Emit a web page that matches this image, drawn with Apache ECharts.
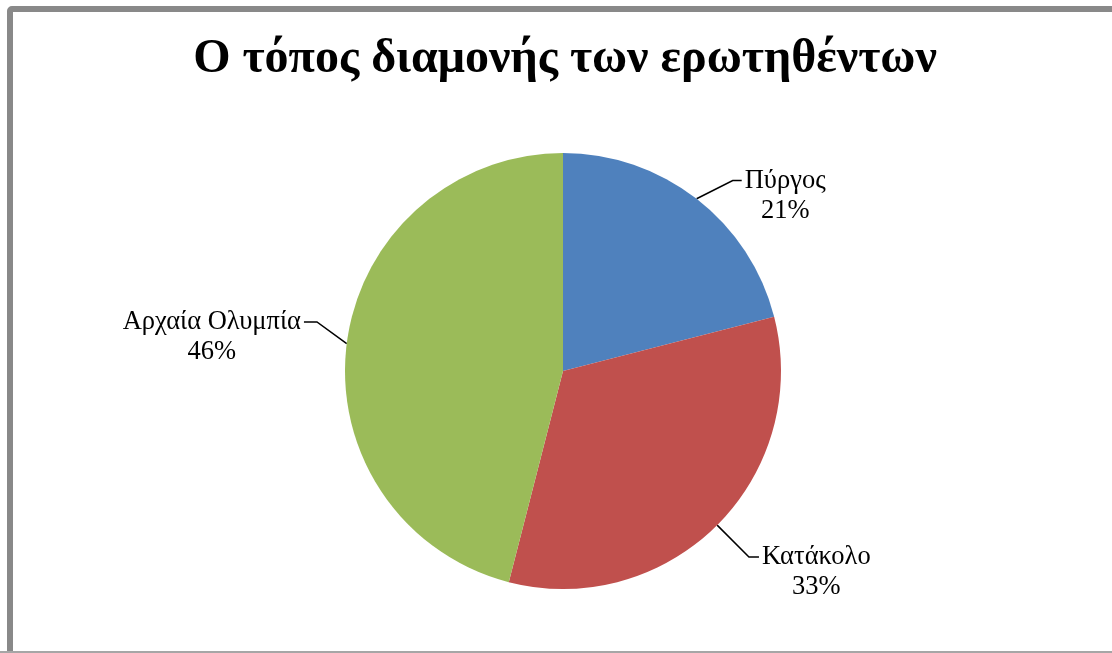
<!DOCTYPE html>
<html>
<head>
<meta charset="utf-8">
<script src="https://cdn.jsdelivr.net/npm/echarts@6/dist/echarts.min.js"></script>
<style>
  html, body { margin: 0; padding: 0; background: #ffffff; }
  #chart { width: 1112px; height: 653px; }
</style>
</head>
<body>
<div id="chart"></div>
<script>
// Place of residence of respondents
const chartTitle = 'Ο τόπος διαμονής των ερωτηθέντων';
const categories = ['Πύργος', 'Κατάκολο', 'Αρχαία Ολυμπία'];
const shares = [21, 33, 46];
const sliceColors = ['#4F81BD', '#C0504D', '#9BBB59'];

// leader line per slice: radial length, horizontal length, short shelf next to the text, vertical shift
const leaderLengths = [[23, 31], [45, 10], [30, 13]];
const leaderShelf = [9, 10, 13];
const leaderShift = [0, 0, -18];

const serif = '"Liberation Serif", "Times New Roman", serif';
const labelSize = 26.5;
const labelLine = 30;

const pieData = categories.map((name, i) => ({
  name: name,
  value: shares[i],
  itemStyle: { color: sliceColors[i] },
  labelLine: { length: leaderLengths[i][0], length2: leaderLengths[i][1] }
}));

const chart = echarts.init(document.getElementById('chart'), null, { renderer: 'canvas' });

chart.setOption({
  backgroundColor: '#ffffff',
  animation: false,
  title: {
    text: chartTitle,
    left: 560,
    textAlign: 'center',
    top: 31,
    textStyle: {
      fontFamily: serif,
      fontWeight: 'bold',
      fontSize: 48,
      color: '#000000'
    }
  },
  graphic: [
    {
      type: 'rect',
      shape: { x: 10, y: 9, width: 1200, height: 700, r: 2 },
      style: { fill: null, stroke: '#898989', lineWidth: 6 },
      silent: true
    },
    {
      type: 'rect',
      shape: { x: 0, y: 651, width: 1112, height: 2 },
      style: { fill: '#a6a6a6' },
      silent: true
    }
  ],
  series: [{
    type: 'pie',
    center: [563, 371],
    radius: 218,
    startAngle: 90,
    clockwise: true,
    avoidLabelOverlap: false,
    data: pieData,
    label: {
      show: true,
      position: 'outside',
      distanceToLabelLine: 3,
      formatter: (p) => '{n|' + p.name + '}\n{v|' + p.value + '%}',
      padding: [labelLine, 0, 0, 0],
      rich: {
        n: { fontFamily: serif, fontSize: labelSize, color: '#000000', lineHeight: labelLine, align: 'center' },
        v: { fontFamily: serif, fontSize: labelSize, color: '#000000', lineHeight: labelLine, align: 'center' }
      }
    },
    // keep the leader's start on the slice edge, bend it just before the text
    labelLayout: (params) => {
      const pts = params.labelLinePoints;
      if (!pts) return {};
      const i = params.dataIndex;
      const dy = leaderShift[i];
      const p0 = pts[0];
      const p2 = [pts[2][0], pts[2][1] + dy];
      const dir = Math.sign(p2[0] - p0[0]) || 1;
      const p1 = [p2[0] - dir * leaderShelf[i], p2[1]];
      return { dy: dy, labelLinePoints: [p0, p1, p2] };
    },
    labelLine: {
      show: true,
      smooth: false,
      lineStyle: { color: '#000000', width: 1.5 }
    },
    emphasis: { disabled: true }
  }]
});
</script>
</body>
</html>
